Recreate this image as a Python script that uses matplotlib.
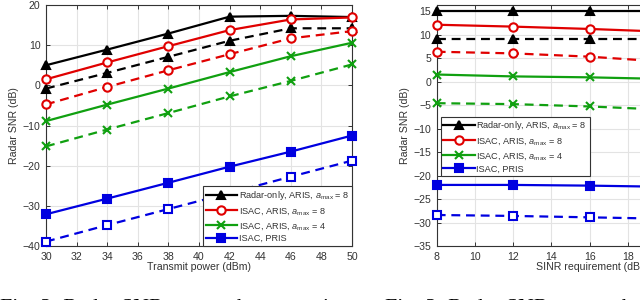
import matplotlib
matplotlib.use("Agg")
import matplotlib.pyplot as plt

# Fig. 2: radar SNR vs transmit power
power = [30, 34, 38, 42, 46, 50]
radar_aris_8 = [5.0, 8.9, 12.9, 17.1, 17.3, 17.0]
radar_aris_8_d = [-0.8, 3.1, 7.1, 11.1, 14.2, 14.2]
isac_aris_8 = [1.5, 5.7, 9.75, 13.75, 16.4, 16.9]
isac_aris_8_d = [-4.75, -0.4, 3.75, 7.75, 11.7, 13.5]
isac_aris_4 = [-8.9, -4.8, -0.8, 3.3, 7.25, 10.6]
isac_aris_4_d = [-15.2, -11.0, -6.9, -2.75, 1.1, 5.2]
isac_pris = [-32.1, -28.2, -24.25, -20.25, -16.5, -12.5]
isac_pris_d = [-38.9, -34.8, -30.8, -26.8, -22.75, -18.75]

# Fig. 3: radar SNR vs SINR requirement
sinr = [8, 12, 16, 20, 24]
radar_aris_8_b = [15.0, 15.0, 15.0, 15.0, 15.0]
radar_aris_8_bd = [9.0, 9.0, 9.0, 9.0, 9.0]
isac_aris_8_b = [12.1, 11.7, 11.2, 10.6, 9.8]
isac_aris_8_bd = [6.35, 6.0, 5.3, 4.2, 3.0]
isac_aris_4_b = [1.5, 1.1, 0.9, 0.55, -0.2]
isac_aris_4_bd = [-4.6, -4.8, -5.3, -6.0, -6.8]
isac_pris_b = [-22.0, -22.0, -22.15, -22.4, -23.0]
isac_pris_bd = [-28.4, -28.6, -28.9, -29.2, -29.7]

labels = ["Radar-only, ARIS, $a_{\\mathrm{max}}$ = 8",
          "ISAC, ARIS, $a_{\\mathrm{max}}$ = 8",
          "ISAC, ARIS, $a_{\\mathrm{max}}$ = 4",
          "ISAC, PRIS"]

plt.rcParams['font.family'] = ['Liberation Sans', 'DejaVu Sans']
plt.rcParams['mathtext.fontset'] = 'custom'
plt.rcParams['mathtext.it'] = 'Liberation Sans:italic'
plt.rcParams['mathtext.rm'] = 'Liberation Sans'

TXT = '#333333'
K, R, G, B = '#000000', '#e00000', '#10a010', '#0000e0'
DASH = (0, (4, 2.6))
LW = 1.6
MS = 6

styles = [
    (K, '^', K, K),
    (R, 'o', 'white', 'white'),
    (G, 'x', G, G),
    (B, 's', B, 'white'),
]


def draw(ax, x, solid, dashed):
    handles = []
    for (c, m, fs, fd), ys, yd, lab in zip(styles, solid, dashed, labels):
        h, = ax.plot(x, ys, color=c, lw=LW, marker=m, ms=MS, mew=1.5,
                     mfc=fs, mec=c, label=lab, clip_on=False, zorder=3)
        ax.plot(x, yd, color=c, lw=LW, ls=DASH, marker=m, ms=MS, mew=1.5,
                mfc=fd, mec=c, clip_on=False, zorder=3)
        handles.append(h)
    return handles


def style(ax, xlabel):
    ax.grid(True, color='#e3e3e3', lw=0.8)
    ax.set_axisbelow(True)
    ax.tick_params(direction='in', length=3, width=0.7, colors='#333333',
                   labelsize=7.6, labelcolor=TXT, top=True, right=True, pad=4)
    for s in ax.spines.values():
        s.set_color('#333333')
        s.set_linewidth(0.8)
    ax.set_xlabel(xlabel, fontsize=7.6, color=TXT)
    ax.xaxis.set_label_coords(0.5, -0.065)
    ax.xaxis.label.set_va('top')
    ax.set_ylabel("Radar SNR (dB)", fontsize=7.6, color=TXT)
    ax.yaxis.set_label_coords(-0.088, 0.5)


def legend(ax, handles, **kw):
    leg = ax.legend(handles=handles, borderaxespad=0, fontsize=6.6,
                    handlelength=3.4, handletextpad=0.2, labelspacing=0.3,
                    borderpad=0.3, fancybox=False, framealpha=1,
                    edgecolor='#333333', **kw)
    leg.get_frame().set_linewidth(0.8)
    for t in leg.get_texts():
        t.set_color(TXT)


fig = plt.figure(figsize=(6.4, 3.0), dpi=100)

ax1 = fig.add_axes([46 / 640, 54 / 300, 306 / 640, 241 / 300])
h1 = draw(ax1, power, [radar_aris_8, isac_aris_8, isac_aris_4, isac_pris],
          [radar_aris_8_d, isac_aris_8_d, isac_aris_4_d, isac_pris_d])
ax1.set_xlim(30, 50)
ax1.set_ylim(-40, 20)
ax1.set_xticks(range(30, 51, 2))
ax1.set_yticks(range(-40, 21, 10))
style(ax1, "Transmit power (dBm)")
legend(ax1, h1, loc='lower right')

ax2 = fig.add_axes([436.7 / 640, 54 / 300, 306 / 640, 241 / 300])
h2 = draw(ax2, sinr, [radar_aris_8_b, isac_aris_8_b, isac_aris_4_b, isac_pris_b],
          [radar_aris_8_bd, isac_aris_8_bd, isac_aris_4_bd, isac_pris_bd])
ax2.set_xlim(8, 24)
ax2.set_ylim(-35, 16.3)
ax2.set_xticks(range(8, 25, 2))
ax2.set_yticks(range(-35, 16, 5))
style(ax2, "SINR requirement (dB)")
legend(ax2, h2, loc='upper left', bbox_to_anchor=(0.013, 0.537))

# captions below the plots (cut off at the bottom edge)
cap = dict(fontsize=15.8, family=['Liberation Serif', 'DejaVu Serif'],
           va='baseline', color='black')
fig.text(0.0, -0.045, "Fig. 2: Radar SNR versus the transmit power.", **cap)
fig.text(385 / 640, -0.045, "Fig. 3: Radar SNR versus the SINR requirement.", **cap)

fig.savefig("out.png", dpi=100)
